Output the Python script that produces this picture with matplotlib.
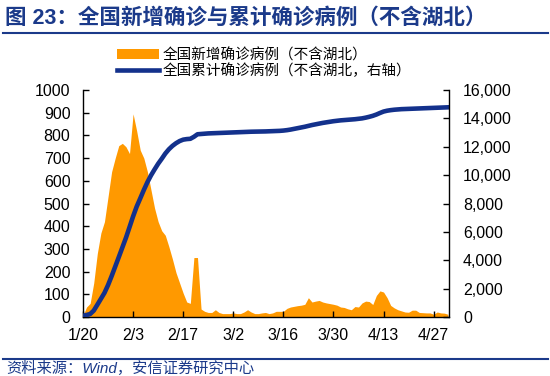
import numpy as np
import pandas as pd
import matplotlib
matplotlib.use("Agg")
import matplotlib.pyplot as plt
from matplotlib.lines import Line2D
from matplotlib.ticker import FuncFormatter, MultipleLocator

plt.rcParams['font.family'] = ['Liberation Sans', 'Noto Sans CJK SC', 'DejaVu Sans']

# 数据：2020-01-20 起的每日数据（不含湖北）
dates = pd.date_range('2020-01-20', periods=103, freq='D')

new_cases = [
    7, 44, 60, 150, 280, 370, 420, 530, 640, 700,
    755, 765, 750, 720, 895, 820, 735, 700, 640, 560,
    480, 420, 380, 360, 310, 255, 195, 150, 105, 66,
    60, 262, 262, 35, 25, 20, 20, 32, 20, 15,
    15, 15, 18, 15, 15, 22, 32, 22, 15, 15,
    18, 20, 15, 18, 25, 25, 25, 38, 44, 47,
    50, 52, 56, 85, 66, 70, 73, 66, 62, 59,
    56, 52, 44, 42, 36, 32, 46, 44, 62, 70,
    68, 55, 95, 115, 110, 85, 51, 40, 32, 27,
    22, 21, 30, 30, 20, 19, 18, 18, 12, 22,
    18, 17, 12,
]

cum_cases = [
    80, 140, 210, 450, 860, 1280, 1700, 2250, 2880, 3550,
    4220, 4900, 5580, 6330, 7090, 7780, 8360, 8950, 9500, 9980,
    10400, 10800, 11150, 11520, 11820, 12060, 12250, 12400, 12500, 12540,
    12560, 12700, 12880, 12900, 12920, 12940, 12950, 12960, 12970, 12980,
    12990, 13000, 13010, 13020, 13030, 13040, 13050, 13060, 13065, 13070,
    13075, 13080, 13090, 13100, 13110, 13120, 13140, 13170, 13210, 13260,
    13310, 13360, 13410, 13470, 13530, 13580, 13630, 13680, 13720, 13760,
    13800, 13830, 13860, 13880, 13900, 13920, 13940, 13970, 14000, 14050,
    14110, 14180, 14270, 14380, 14480, 14540, 14580, 14610, 14630, 14650,
    14660, 14670, 14680, 14690, 14700, 14710, 14720, 14730, 14740, 14750,
    14760, 14770, 14780,
]

tick_idx = [0, 14, 28, 42, 56, 70, 84, 98]
tick_labels = [f"{dates[i].month}/{dates[i].day}" for i in tick_idx]

orange = '#FF9900'
navy = '#13318C'
title_blue = '#1B3A8A'

fig = plt.figure(figsize=(5.5, 3.76), dpi=100)
ax = fig.add_axes([83/550, 1-317/376, (449-83)/550, (317-90)/376])
x = np.arange(len(dates))

area = ax.fill_between(x, 0, new_cases, color=orange, lw=0,
                       label='全国新增确诊病例（不含湖北）')
ax.set_ylim(0, 1000)
ax.set_xlim(0, 102.3)
ax.yaxis.set_major_locator(MultipleLocator(100))

ax2 = ax.twinx()
line, = ax2.plot(x, cum_cases, color=navy, lw=3.3,
                 label='全国累计确诊病例（不含湖北，右轴）')
ax2.set_ylim(0, 16000)
ax2.yaxis.set_major_locator(MultipleLocator(2000))
ax2.yaxis.set_major_formatter(FuncFormatter(lambda v, p: f"{int(v):,}"))

ax.set_xticks(tick_idx)
ax.set_xticklabels(tick_labels)

for a in (ax, ax2):
    a.spines['top'].set_visible(False)
    for s in a.spines.values():
        s.set_linewidth(1.0)
        s.set_color('black')
ax.spines['right'].set_visible(False)
ax2.spines['left'].set_visible(False)
ax2.spines['bottom'].set_visible(False)

ax.tick_params(axis='both', direction='in', length=4, width=1, labelsize=11.5, pad=9)
ax.tick_params(axis='x', pad=8)
ax2.tick_params(axis='y', direction='in', length=4, width=1, labelsize=11.5, pad=10)

fig.legend(handles=[area, line], loc='upper left',
           bbox_to_anchor=(117/550, 1-48/376), frameon=False,
           fontsize=10.5, handlelength=2.9, handletextpad=0.2,
           labelspacing=0.05, borderpad=0, borderaxespad=0)

# 标题与分隔线
fig.text(5/550, 1-18/376, '图 23：全国新增确诊与累计确诊病例（不含湖北）',
         fontsize=15.5, weight='bold', color=title_blue, va='center', ha='left')
fig.add_artist(Line2D([3/550, 548/550], [1-33/376]*2, color=title_blue, lw=1.5))
fig.add_artist(Line2D([3/550, 548/550], [1-359/376]*2, color=title_blue, lw=1.5))
fig.text(6/550, 1-368/376, '资料来源：Wind，安信证券研究中心',
         fontsize=11, style='italic', color=title_blue, va='center', ha='left')

fig.savefig('out.png', dpi=100)
